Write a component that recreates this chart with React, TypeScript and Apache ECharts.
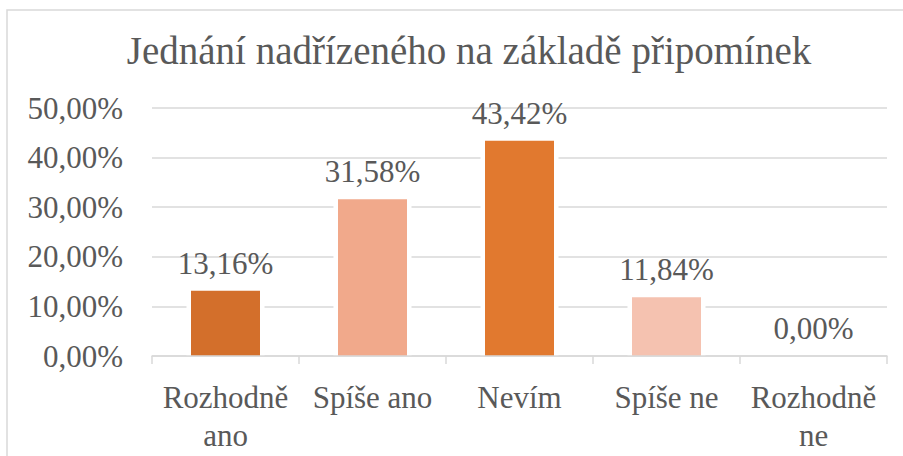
import React, { useEffect, useRef } from "react";
import * as echarts from "echarts";

const categories = ["Rozhodně ano", "Spíše ano", "Nevím", "Spíše ne", "Rozhodně ne"];
const values = [13.16, 31.58, 43.42, 11.84, 0.0];
const barColors = ["#D36F2B", "#F1A98B", "#E1792F", "#F5C2B0", "#ED7D31"];
const yTicks = [0, 10, 20, 30, 40, 50];
const titleText = "Jednání nadřízeného na základě připomínek";

const FONT = "Liberation Serif";
const TEXT_COLOR = "#595959";

const fmt = (v: number) => v.toFixed(2).replace(".", ",") + "%";

export default function App() {
  const ref = useRef<HTMLDivElement>(null);
  useEffect(() => {
    if (!ref.current) return;
    const chart = echarts.init(ref.current, undefined, { renderer: "svg" });
    chart.setOption({
      animation: false,
      backgroundColor: "#ffffff",
      textStyle: { fontFamily: FONT },
      graphic: [
        {
          type: "rect",
          shape: { x: 7, y: 10, width: 1200, height: 1000 },
          style: { fill: "none", stroke: "#D9D9D9", lineWidth: 1.5 },
          silent: true,
          z: -1,
        },
      ],
      title: {
        text: titleText,
        left: 464,
        top: 26,
        textAlign: "center",
        textStyle: {
          fontFamily: FONT,
          fontSize: 39,
          fontWeight: "normal",
          color: TEXT_COLOR,
        },
      },
      grid: { left: 152, right: 16, top: 108, bottom: 100, containLabel: false },
      xAxis: [
        {
          type: "category",
          data: categories,
          z: 3,
          axisLine: { lineStyle: { color: "#D9D9D9", width: 1.5 } },
          axisTick: { show: true, length: 8, lineStyle: { color: "#D9D9D9", width: 1.5 } },
          axisLabel: {
            interval: 0,
            margin: 22,
            fontFamily: FONT,
            fontSize: 31,
            color: TEXT_COLOR,
            lineHeight: 38,
            formatter: (v: string) => v.replace("Rozhodně ", "Rozhodně\n"),
          },
        },
        {
          type: "category",
          data: categories,
          show: false,
          position: "bottom",
        },
      ],
      yAxis: {
        type: "value",
        min: yTicks[0],
        max: yTicks[yTicks.length - 1],
        interval: 10,
        axisLine: { show: false },
        axisTick: { show: false },
        splitLine: { lineStyle: { color: "#D9D9D9", width: 1.5 } },
        axisLabel: {
          margin: 29,
          fontFamily: FONT,
          fontSize: 31,
          color: TEXT_COLOR,
          formatter: (v: number) => fmt(v),
        },
      },
      series: [
        {
          type: "bar",
          xAxisIndex: 1,
          data: values,
          barWidth: 78,
          silent: true,
          z: 1,
          itemStyle: { color: "#ffffff" },
        },
        {
          type: "bar",
          xAxisIndex: 0,
          data: values.map((v, i) => ({ value: v, itemStyle: { color: barColors[i] } })),
          barWidth: 69,
          z: 2,
          label: {
            show: true,
            position: "top",
            distance: 12,
            fontFamily: FONT,
            fontSize: 31,
            color: TEXT_COLOR,
            formatter: (p: any) => fmt(p.value),
          },
        },
      ],
    });
    return () => chart.dispose();
  }, []);
  return (
    <div
      ref={ref}
      style={{ position: "absolute", left: 0, top: 0, width: 903, height: 456 }}
    />
  );
}
